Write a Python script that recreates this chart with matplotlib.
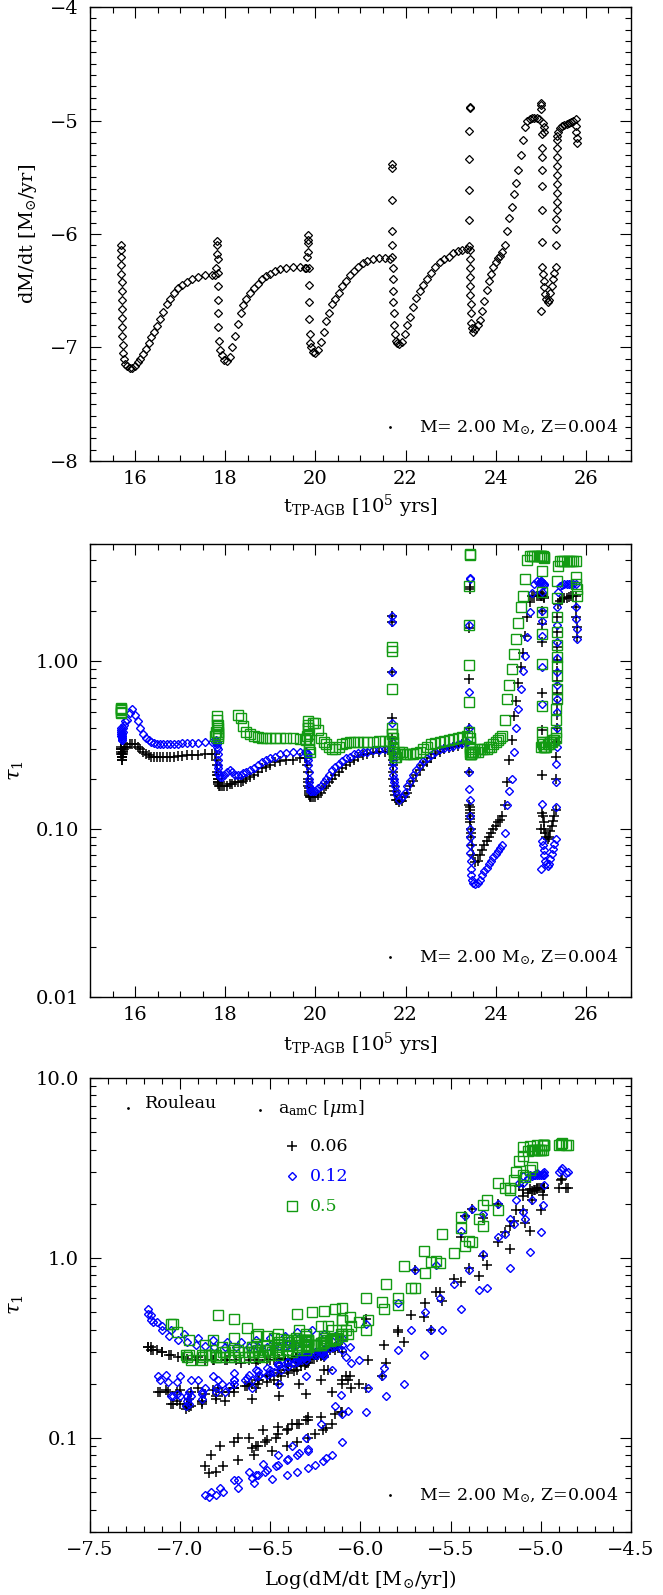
import numpy as np
import matplotlib
matplotlib.use('Agg')
import matplotlib.pyplot as plt
from matplotlib.ticker import MultipleLocator, FixedLocator, FixedFormatter, LogLocator, NullFormatter

nan = np.nan

# time on the TP-AGB [1e5 yr], one entry per model
t_tp = [
    # pulse 1 + interpulse
    15.68, 15.68, 15.69, 15.69, 15.69, 15.70, 15.70, 15.70, 15.71, 15.71, 15.72, 15.72, 15.73, 15.74, 15.76, 15.78,
    15.82, 15.88, 15.94, 16.00, 16.06, 16.12, 16.18, 16.24, 16.30, 16.36, 16.42, 16.48, 16.55, 16.62, 16.70, 16.78,
    16.86, 16.95, 17.05, 17.15, 17.27, 17.40, 17.55, 17.70,
    # pulse 2 + interpulse
    17.78, 17.80, 17.81, 17.82, 17.82, 17.83, 17.83, 17.84, 17.84, 17.85, 17.85, 17.86, 17.88,
    17.92, 17.98, 18.04, 18.10, 18.16, 18.22, 18.28, 18.34, 18.40, 18.47, 18.55, 18.63, 18.72, 18.81, 18.90, 19.00,
    19.10, 19.22, 19.35, 19.50, 19.65, 19.78,
    # pulse 3 + interpulse
    19.80, 19.82, 19.83, 19.83, 19.84, 19.84, 19.85, 19.85, 19.86, 19.86, 19.87, 19.88, 19.90,
    19.94, 20.00, 20.06, 20.12, 20.18, 20.24, 20.30, 20.37, 20.44, 20.52, 20.60, 20.68, 20.76, 20.85, 20.95, 21.05,
    21.15, 21.27, 21.40, 21.55, 21.66,
    # pulse 4 + interpulse
    21.69, 21.70, 21.70, 21.71, 21.71, 21.71, 21.72, 21.72, 21.73, 21.73, 21.74, 21.75, 21.76, 21.78,
    21.80, 21.86, 21.92, 21.98, 22.04, 22.10, 22.17, 22.24, 22.31, 22.39, 22.47, 22.56, 22.66, 22.76, 22.86, 22.96,
    23.06, 23.16, 23.26, 23.36,
    # pulse 5 + interpulse
    23.40, 23.40, 23.41, 23.41, 23.41, 23.42, 23.42, 23.42, 23.42, 23.43, 23.43, 23.44, 23.44, 23.45, 23.45, 23.46,
    23.48, 23.50,
    23.55, 23.60, 23.65, 23.70, 23.75, 23.80, 23.85, 23.90, 23.95, 24.00, 24.05, 24.10, 24.15, 24.20, 24.25, 24.30,
    24.35, 24.40, 24.45, 24.50, 24.55, 24.60, 24.65, 24.70, 24.75, 24.80, 24.86, 24.92, 24.97, 25.04, 25.06, 25.07,
    # pulse 6
    25.00, 25.01, 25.01, 25.02, 25.02, 25.02, 25.02, 25.03, 25.03, 25.03, 25.00,
    25.02, 25.04, 25.06, 25.08, 25.10, 25.12, 25.15, 25.18, 25.21, 25.24, 25.27, 25.30, 25.33,
    # pulse 7 + last interpulse
    25.34, 25.34, 25.34, 25.35, 25.35, 25.35, 25.35, 25.35, 25.36, 25.36, 25.36, 25.36, 25.37,
    25.38, 25.42, 25.47, 25.52, 25.57, 25.62, 25.67, 25.72, 25.77, 25.79, 25.79, 25.80, 25.80,
]

# log mass-loss rate [Msun/yr]
log_mdot = [
    -6.10, -6.14, -6.20, -6.27, -6.35, -6.42, -6.50, -6.58, -6.66, -6.74, -6.82, -6.90, -6.98, -7.05, -7.10, -7.15,
    -7.16, -7.18, -7.18, -7.16, -7.13, -7.10, -7.06, -7.01, -6.96, -6.91, -6.86, -6.81, -6.75, -6.69, -6.62, -6.57,
    -6.52, -6.48, -6.45, -6.42, -6.40, -6.38, -6.36, -6.36,
    -6.36, -6.30, -6.18, -6.06, -6.10, -6.22, -6.34, -6.46, -6.58, -6.70, -6.82, -6.94, -7.02,
    -7.07, -7.11, -7.12, -7.08, -7.00, -6.90, -6.79, -6.70, -6.63, -6.57, -6.52, -6.48, -6.44, -6.40, -6.37, -6.35,
    -6.33, -6.31, -6.30, -6.29, -6.29, -6.30,
    -6.30, -6.20, -6.08, -6.01, -6.05, -6.16, -6.30, -6.45, -6.60, -6.75, -6.88, -6.96, -7.00,
    -7.04, -7.05, -7.02, -6.95, -6.86, -6.77, -6.70, -6.62, -6.57, -6.52, -6.46, -6.41, -6.36, -6.33, -6.29, -6.26,
    -6.24, -6.22, -6.21, -6.21, -6.22,
    -6.10, -5.70, -5.38, -5.42, -5.97, -6.20, -6.30, -6.40, -6.50, -6.60, -6.70, -6.80, -6.88, -6.94,
    -6.96, -6.97, -6.95, -6.88, -6.80, -6.73, -6.64, -6.56, -6.50, -6.45, -6.40, -6.34, -6.29, -6.25, -6.22, -6.20,
    -6.17, -6.15, -6.14, -6.13,
    -6.11, -5.88, -5.61, -5.34, -5.09, -4.88, -4.89, -6.14, -6.22, -6.30, -6.38, -6.46, -6.54, -6.62, -6.70, -6.78,
    -6.83, -6.86,
    -6.84, -6.80, -6.76, -6.68, -6.59, -6.49, -6.41, -6.35, -6.29, -6.25, -6.21, -6.19, -6.16, -6.10, -5.97, -5.86,
    -5.76, -5.65, -5.55, -5.44, -5.30, -5.17, -5.06, -5.00, -4.99, -4.98, -4.98, -4.98, -4.99, -5.02, -5.06, -5.10,
    -4.90, -4.85, -4.86, -5.12, -5.24, -5.32, -5.44, -5.58, -5.79, -6.07, -6.68,
    -6.29, -6.35, -6.41, -6.47, -6.53, -6.57, -6.60, -6.58, -6.52, -6.46, -6.40, -6.34, -6.29,
    -6.10, -5.96, -5.87, -5.79, -5.72, -5.64, -5.56, -5.48, -5.40, -5.32, -5.24, -5.17, -5.14,
    -5.10, -5.07, -5.05, -5.04, -5.03, -5.02, -5.01, -5.00, -4.99, -5.05, -5.10, -5.15, -5.20,
]

# optical depth at 1 micron, amorphous carbon grain size 0.06 um
tau_006 = [
    0.30, 0.31, 0.30, 0.29, 0.28, 0.27, 0.27, 0.26, 0.26, 0.27, 0.27, 0.28, 0.28, 0.29, 0.30, 0.31,
    0.31, 0.32, 0.32, 0.32, 0.31, 0.30, 0.29, 0.28, 0.275, 0.27, 0.27, 0.27, 0.27, 0.27, 0.27, 0.27,
    0.27, 0.272, 0.274, 0.275, 0.276, 0.278, 0.28, 0.28,
    0.28, 0.26, 0.24, 0.22, 0.21, 0.21, 0.20, 0.20, 0.19, 0.19, 0.185, 0.18, 0.18,
    0.18, 0.18, 0.18, 0.185, 0.185, 0.19, 0.19, 0.19, 0.195, 0.20, 0.205, 0.21, 0.22, 0.23, 0.235, 0.24,
    0.25, 0.255, 0.26, 0.26, 0.265, 0.265,
    0.265, 0.24, 0.22, 0.20, 0.19, 0.18, 0.175, 0.17, 0.165, 0.16, 0.158, 0.155, 0.155,
    0.155, 0.155, 0.16, 0.165, 0.175, 0.18, 0.19, 0.20, 0.21, 0.22, 0.23, 0.24, 0.25, 0.26, 0.27, 0.275,
    0.28, 0.285, 0.29, 0.29, 0.29,
    0.35, 0.86, 1.87, 1.71, 0.46, 0.28, 0.26, 0.24, 0.22, 0.20, 0.18, 0.17, 0.16, 0.15,
    0.15, 0.145, 0.148, 0.155, 0.165, 0.18, 0.195, 0.21, 0.225, 0.24, 0.25, 0.265, 0.28, 0.29, 0.30, 0.305,
    0.31, 0.315, 0.32, 0.325,
    0.14, 0.22, 0.40, 0.79, 1.57, 2.76, 2.70, 0.135, 0.13, 0.125, 0.12, 0.115, 0.11, 0.10, 0.095, 0.09,
    0.08, 0.07,
    0.064, 0.065, 0.070, 0.075, 0.080, 0.085, 0.090, 0.095, 0.100, 0.105, 0.110, 0.113, 0.120, 0.140, 0.19, 0.26,
    0.34, 0.47, 0.58, 0.74, 0.92, 1.12, 1.42, 1.85, 2.25, 2.46, 2.46, 2.45, 2.45, 2.45, 2.42, 2.40,
    2.45, 2.45, 2.45, 2.52, 2.00, 1.67, 1.30, 0.65, 0.39, 0.21, 0.10,
    0.125, 0.12, 0.11, 0.10, 0.095, 0.09, 0.088, 0.09, 0.097, 0.105, 0.112, 0.12, 0.13,
    0.20, 0.27, 0.33, 0.40, 0.48, 0.56, 0.65, 0.76, 0.88, 1.02, 1.22, 1.50, 1.85,
    2.20, 2.30, 2.35, 2.38, 2.40, 2.42, 2.44, 2.45, 2.45, 2.10, 1.85, 1.60, 1.40,
]

# grain size 0.12 um
tau_012 = [
    0.36, 0.37, 0.38, 0.40, 0.39, 0.37, 0.36, 0.35, 0.34, 0.34, 0.35, 0.36, 0.38, 0.40, 0.42, 0.44,
    0.45, 0.49, 0.52, 0.48, 0.44, 0.40, 0.37, 0.35, 0.34, 0.33, 0.325, 0.32, 0.32, 0.32, 0.32, 0.32,
    0.322, 0.324, 0.325, 0.326, 0.327, 0.328, 0.33, 0.33,
    0.33, 0.34, 0.33, 0.32, 0.31, 0.30, 0.28, 0.26, 0.24, 0.23, 0.22, 0.21, 0.205,
    0.205, 0.21, 0.22, 0.225, 0.22, 0.21, 0.21, 0.21, 0.215, 0.22, 0.225, 0.232, 0.24, 0.25, 0.26, 0.265,
    0.27, 0.28, 0.285, 0.29, 0.29, 0.29,
    0.29, 0.285, 0.28, 0.27, 0.26, 0.24, 0.22, 0.20, 0.19, 0.18, 0.175, 0.17, 0.17,
    0.17, 0.17, 0.175, 0.18, 0.19, 0.20, 0.21, 0.225, 0.235, 0.245, 0.255, 0.265, 0.27, 0.28, 0.285, 0.29,
    0.29, 0.295, 0.295, 0.30, 0.30,
    0.33, 0.86, 1.87, 1.71, 0.43, 0.29, 0.27, 0.25, 0.23, 0.21, 0.20, 0.19, 0.18, 0.17,
    0.16, 0.15, 0.155, 0.165, 0.18, 0.195, 0.21, 0.225, 0.24, 0.255, 0.265, 0.275, 0.29, 0.30, 0.305, 0.31,
    0.315, 0.32, 0.325, 0.33,
    0.174, 0.22, 0.40, 0.66, 1.65, 3.16, 3.10, 0.15, 0.12, 0.10, 0.09, 0.08, 0.072, 0.065, 0.058, 0.053,
    0.05, 0.048,
    0.047, 0.048, 0.050, 0.053, 0.056, 0.059, 0.062, 0.065, 0.068, 0.071, 0.074, 0.077, 0.080, 0.095, 0.14, 0.17,
    0.20, 0.29, 0.40, 0.52, 0.68, 0.88, 1.08, 1.40, 1.96, 2.55, 2.90, 3.00, 2.95, 2.95, 2.90, 2.85,
    3.00, 3.00, 2.95, 2.60, 2.00, 1.75, 1.42, 0.92, 0.56, 0.142, 0.058,
    0.085, 0.08, 0.075, 0.07, 0.065, 0.062, 0.06, 0.062, 0.066, 0.071, 0.076, 0.082, 0.087,
    0.135, 0.19, 0.245, 0.31, 0.40, 0.50, 0.60, 0.72, 0.86, 1.05, 1.30, 1.65, 2.10,
    2.60, 2.80, 2.85, 2.88, 2.90, 2.90, 2.90, 2.90, 2.90, 2.10, 1.80, 1.55, 1.36,
]

# grain size 0.5 um
tau_05 = [
    0.53, 0.52, 0.51, 0.50, 0.49, nan, nan, nan, nan, nan, nan, nan, nan, nan, nan, nan,
    nan, nan, nan, nan, nan, nan, nan, nan, nan, nan, nan, nan, nan, nan, nan, nan,
    nan, nan, nan, nan, nan, nan, nan, nan,
    0.36, 0.38, 0.42, 0.47, 0.45, 0.42, 0.40, 0.38, 0.37, 0.36, 0.35, nan, nan,
    nan, nan, nan, nan, nan, nan, 0.48, 0.46, 0.41, 0.38, 0.37, 0.36, 0.355, 0.35, 0.35, 0.35,
    0.35, 0.35, 0.35, 0.35, 0.345, 0.345,
    0.34, 0.36, 0.40, 0.44, 0.42, 0.40, 0.37, 0.34, 0.32, 0.30, 0.29, nan, nan,
    0.43, 0.43, 0.39, 0.35, 0.33, 0.32, 0.31, 0.30, 0.30, 0.31, 0.32, 0.325, 0.33, 0.33, 0.33, 0.33,
    0.33, 0.33, 0.335, 0.335, 0.335,
    0.37, 0.68, 1.22, 1.16, 0.40, 0.37, 0.35, 0.33, 0.31, 0.30, 0.29, 0.28, 0.27, 0.27,
    0.28, 0.29, 0.29, 0.28, 0.28, 0.28, 0.28, 0.285, 0.29, 0.30, 0.31, 0.32, 0.325, 0.33, 0.335, 0.34,
    0.345, 0.35, 0.355, 0.36,
    0.38, 0.57, 0.95, 1.65, 2.82, 4.36, 4.30, 0.35, 0.33, 0.31, 0.30, 0.29, 0.28, 0.28, 0.28, 0.28,
    0.29, 0.29,
    0.29, 0.29, 0.30, 0.30, 0.30, 0.30, 0.31, 0.31, 0.32, 0.33, 0.34, 0.35, 0.36, 0.45, 0.60, 0.72,
    0.90, 1.10, 1.36, 1.70, 2.10, 2.46, 3.10, 4.00, 4.26, 4.26, 4.26, 4.26, 4.26, 4.26, 4.20, 4.15,
    4.26, 4.26, 4.26, 3.46, 2.60, 1.96, 1.46, 0.96, 0.545, 0.38, 0.31,
    0.33, 0.32, 0.31, 0.31, 0.31, 0.31, 0.32, 0.32, 0.33, 0.33, 0.34, 0.34, 0.35,
    0.38, 0.45, 0.52, 0.60, 0.68, 0.82, 0.94, 1.06, 1.25, 1.50, 1.85, 2.40, 3.00,
    3.70, 3.95, 3.98, 3.98, 3.98, 3.98, 3.98, 3.98, 3.98, 3.20, 2.90, 2.70, 2.46,
]

grain_sizes = ['0.06', '0.12', '0.5']
model_label = r'M= 2.00 M$_{\odot}$, Z=0.004'

blue = '#0000ff'
green = '#129a12'

plt.rcParams['font.family'] = 'DejaVu Serif'
plt.rcParams['mathtext.fontset'] = 'dejavuserif'

t_tp = np.array(t_tp)
log_mdot = np.array(log_mdot)
tau_006 = np.array(tau_006)
tau_012 = np.array(tau_012)
tau_05 = np.array(tau_05)

fig = plt.figure(figsize=(6.63, 15.95), dpi=100)
ax1 = fig.add_axes([0.1357, 0.711, 0.816, 0.2846])
ax2 = fig.add_axes([0.1357, 0.3749, 0.816, 0.284])
ax3 = fig.add_axes([0.1357, 0.0395, 0.816, 0.2846])


def frame(ax):
    ax.tick_params(which='both', direction='in', top=True, right=True, width=0.8, labelsize=14)
    ax.tick_params(axis='x', pad=6.5)
    ax.tick_params(axis='y', pad=8)
    ax.tick_params(which='major', length=8)
    ax.tick_params(which='minor', length=4)
    for s in ax.spines.values():
        s.set_linewidth(1.0)


def model_note(ax, y):
    ax.plot([0.555], [y], 'o', ms=1, color='k', transform=ax.transAxes)
    ax.text(0.976, y, model_label, transform=ax.transAxes, ha='right', va='center', fontsize=12.5)


def series(ax, x):
    ax.plot(x, tau_006, '+', ms=6.5, mew=1.1, color='k', ls='none')
    ax.plot(x, tau_012, 'D', ms=3.9, mew=1.0, mfc='none', mec=blue, ls='none')
    ax.plot(x, tau_05, 's', ms=6.6, mew=1.0, mfc='none', mec=green, ls='none')


xlab_t = 't$_{\\mathrm{TP\u2010AGB}}$ [10$^5$ yrs]'

# panel 1: mass-loss rate vs time
ax1.plot(t_tp, log_mdot, 'D', ms=4.0, mew=0.9, mfc='none', mec='k', ls='none')
ax1.set_xlim(15, 27)
ax1.set_ylim(-8, -4)
ax1.xaxis.set_major_locator(MultipleLocator(2))
ax1.xaxis.set_minor_locator(MultipleLocator(0.5))
ax1.yaxis.set_major_locator(MultipleLocator(1))
ax1.yaxis.set_minor_locator(MultipleLocator(0.1))
frame(ax1)
ax1.set_xlabel(xlab_t, fontsize=14, va='center')
ax1.xaxis.set_label_coords(0.5, -0.1)
ax1.set_ylabel(r'dM/dt [M$_{\odot}$/yr]', fontsize=14, va='center')
ax1.yaxis.set_label_coords(-0.115, 0.5)
model_note(ax1, 0.075)

# panel 2: optical depth vs time
series(ax2, t_tp)
ax2.set_yscale('log')
ax2.set_xlim(15, 27)
ax2.set_ylim(0.01, 5)
ax2.xaxis.set_major_locator(MultipleLocator(2))
ax2.xaxis.set_minor_locator(MultipleLocator(0.5))
ax2.yaxis.set_major_locator(FixedLocator([0.01, 0.1, 1.0]))
ax2.yaxis.set_major_formatter(FixedFormatter(['0.01', '0.10', '1.00']))
ax2.yaxis.set_minor_locator(LogLocator(base=10, subs=np.arange(2, 10)))
ax2.yaxis.set_minor_formatter(NullFormatter())
frame(ax2)
ax2.set_xlabel(xlab_t, fontsize=14, va='center')
ax2.xaxis.set_label_coords(0.5, -0.105)
ax2.set_ylabel(r'$\tau_1$', fontsize=15, va='center')
ax2.yaxis.set_label_coords(-0.135, 0.5)
model_note(ax2, 0.088)

# panel 3: optical depth vs mass-loss rate
series(ax3, log_mdot)
ax3.set_yscale('log')
ax3.set_xlim(-7.5, -4.5)
ax3.set_ylim(0.03, 10)
ax3.xaxis.set_major_locator(MultipleLocator(0.5))
ax3.xaxis.set_minor_locator(MultipleLocator(0.1))
ax3.yaxis.set_major_locator(FixedLocator([0.1, 1.0, 10.0]))
ax3.yaxis.set_major_formatter(FixedFormatter(['0.1', '1.0', '10.0']))
ax3.yaxis.set_minor_locator(LogLocator(base=10, subs=np.arange(2, 10)))
ax3.yaxis.set_minor_formatter(NullFormatter())
frame(ax3)
ax3.set_xlabel(r'Log(dM/dt [M$_{\odot}$/yr])', fontsize=14, va='center')
ax3.xaxis.set_label_coords(0.5, -0.105)
ax3.set_ylabel(r'$\tau_1$', fontsize=15, va='center')
ax3.yaxis.set_label_coords(-0.135, 0.5)
model_note(ax3, 0.081)

# legend block
tr = ax3.transAxes
ax3.plot([0.070], [0.934], 'o', ms=1, color='k', transform=tr)
ax3.text(0.102, 0.945, 'Rouleau', transform=tr, ha='left', va='center', fontsize=12.5)
ax3.plot([0.314], [0.929], 'o', ms=1, color='k', transform=tr)
ax3.text(0.347, 0.932, r'a$_{\rm amC}$ [$\mu$m]', transform=tr, ha='left', va='center', fontsize=12.5)
ax3.plot([0.373], [0.850], '+', ms=7, mew=1.1, color='k', transform=tr)
ax3.text(0.407, 0.850, grain_sizes[0], transform=tr, ha='left', va='center', fontsize=12.5, color='k')
ax3.plot([0.373], [0.784], 'D', ms=4.2, mew=1.0, mfc='none', mec=blue, transform=tr)
ax3.text(0.407, 0.784, grain_sizes[1], transform=tr, ha='left', va='center', fontsize=12.5, color=blue)
ax3.plot([0.373], [0.718], 's', ms=6.6, mew=1.0, mfc='none', mec=green, transform=tr)
ax3.text(0.407, 0.718, grain_sizes[2], transform=tr, ha='left', va='center', fontsize=12.5, color=green)

fig.savefig('out.png', dpi=100)
